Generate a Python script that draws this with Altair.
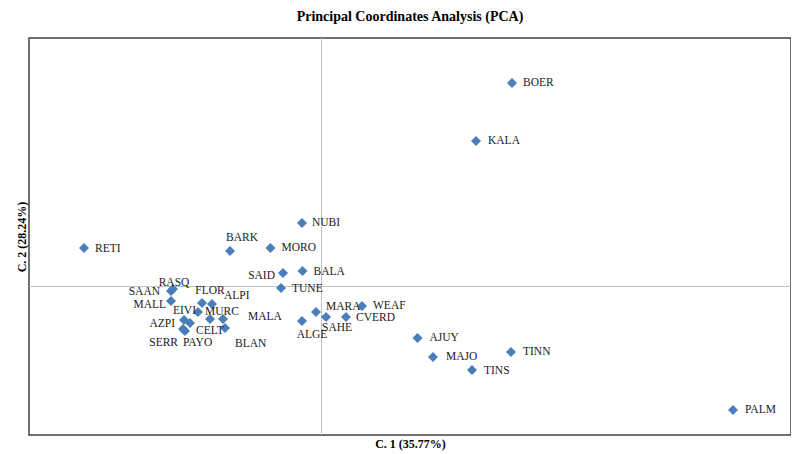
import altair as alt
import pandas as pd

# Populations and their coordinates
names = ["BOER", "KALA", "NUBI", "RETI", "BARK", "MORO", "SAID", "BALA", "TUNE",
         "MARA", "ALGE", "SAHE", "CVERD", "WEAF", "AJUY", "MAJO", "TINS", "TINN",
         "PALM", "RASQ", "SAAN", "MALL", "FLOR", "ALPI", "EIVI", "MURC", "AZPI",
         "CELT", "SERR", "PAYO", "BLAN", "MALA"]
c1 = [0.762, 0.618, -0.078, -0.950, -0.366, -0.204, -0.154, -0.076, -0.162,
      -0.022, -0.078, 0.018, 0.098, 0.162, 0.384, 0.446, 0.602, 0.758,
      1.646, -0.594, -0.602, -0.602, -0.478, -0.438, -0.494, -0.446, -0.550,
      -0.526, -0.554, -0.546, -0.386, -0.394]
c2 = [0.814, 0.582, 0.254, 0.154, 0.142, 0.154, 0.054, 0.062, -0.006,
      -0.102, -0.138, -0.122, -0.122, -0.078, -0.206, -0.282, -0.334, -0.262,
      -0.494, -0.010, -0.018, -0.058, -0.066, -0.070, -0.102, -0.130, -0.134,
      -0.146, -0.170, -0.178, -0.166, -0.130]

# Label placement (pixel offsets from the point, and alignment)
label_dx = [11, 12, 10, 11, 12, 11, -8, 11, 11,
            10, 10, 11, 10, 11, 12, 13, 12, 12,
            12, 1, -11, -5, 8, 12, -2, -5, -9,
            6, -5, -2, 10, 25]
label_dy = [0, 0, 0, 1, -13, 0, 3, 1, 1,
            -5, 14, 11, 1, 0, 0, 0, 1, 0,
            0, -6, 1, 4, -12, -8, -1, -7, 4,
            8, 14, 12, 16, -2]
label_align = ["left", "left", "left", "left", "center", "left", "right", "left", "left",
               "left", "center", "center", "left", "left", "left", "left", "left", "left",
               "left", "center", "right", "right", "center", "left", "right", "left", "right",
               "left", "right", "left", "left", "left"]

x_domain = [-1.17, 1.878]
y_domain = [-0.594, 0.994]
W, H = 762, 397
px_x = W / (x_domain[1] - x_domain[0])
px_y = H / (y_domain[1] - y_domain[0])

df = pd.DataFrame({"name": names, "c1": c1, "c2": c2,
                   "dx": label_dx, "dy": label_dy, "align": label_align})

SERIF = "Liberation Serif"
BLUE = "#4A7EBB"

base = alt.Chart(df)

xs = alt.X("c1:Q", scale=alt.Scale(domain=x_domain, nice=False, zero=False),
           axis=alt.Axis(title="C. 1 (35.77%)", domain=False, ticks=False, labels=False,
                         grid=False, titleFont=SERIF, titleFontSize=12,
                         titleFontWeight="bold", titleColor="#000000",
                         titleY=8, titleBaseline="middle"))
ys = alt.Y("c2:Q", scale=alt.Scale(domain=y_domain, nice=False, zero=False),
           axis=alt.Axis(title="C. 2 (28.24%)", domain=False, ticks=False, labels=False,
                         grid=False, titleFont=SERIF, titleFontSize=12,
                         titleFontWeight="bold", titleColor="#000000",
                         titleX=-8, titleBaseline="middle"))

vrule = alt.Chart().mark_rule(color="#c0c0c0", strokeWidth=1).encode(x=alt.datum(0))
hrule = alt.Chart().mark_rule(color="#c0c0c0", strokeWidth=1).encode(y=alt.datum(0))

points = base.mark_point(shape="diamond", filled=True, size=100, color=BLUE, opacity=1).encode(
    x=xs, y=ys)

labels = []
for al in ["left", "center", "right"]:
    labels.append(
        base.transform_filter(alt.datum.align == al).transform_calculate(
            lx=f"datum.c1 + datum.dx / {px_x}",
            ly=f"datum.c2 - datum.dy / {px_y}",
        ).mark_text(
            align=al, baseline="middle", font=SERIF, fontSize=11.5, color="#1a1a1a"
        ).encode(
            x=alt.X("lx:Q"), y=alt.Y("ly:Q"), text="name:N",
        )
    )

chart = alt.layer(vrule, hrule, points, *labels).properties(
    width=W, height=H,
    title=alt.TitleParams("Principal Coordinates Analysis (PCA)", font=SERIF, fontSize=14,
                          fontWeight="bold", color="#000000", anchor="middle", offset=14),
    autosize=alt.AutoSizeParams(type="none"),
    padding={"left": 21, "top": 30, "right": 0, "bottom": 17},
).configure(background="white").configure_view(stroke="#404040", strokeWidth=1.5)

chart.save("out.html", embed_options={"renderer": "svg", "actions": False})
